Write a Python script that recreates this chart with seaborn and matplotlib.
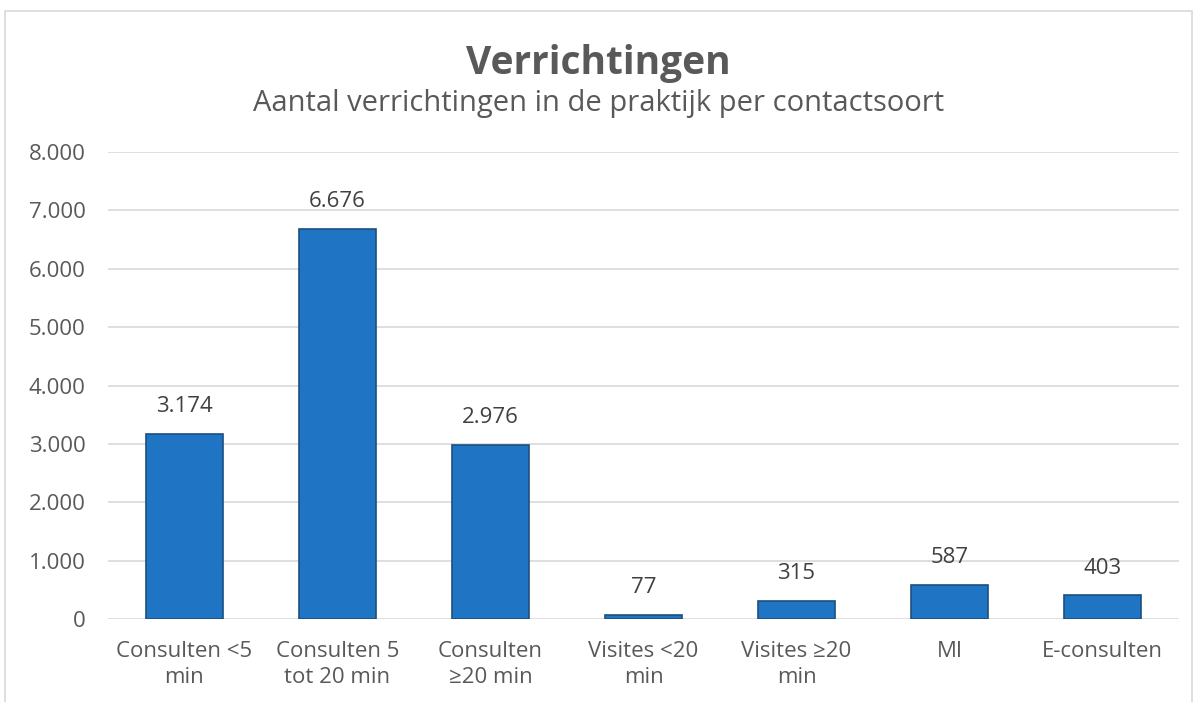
import pandas as pd
import numpy as np
import matplotlib.pyplot as plt
import matplotlib.patches as mpatches
import seaborn as sns

# data
categories = ['Consulten <5\nmin', 'Consulten 5\ntot 20 min', 'Consulten\n≥20 min',
              'Visites <20\nmin', 'Visites ≥20\nmin', 'MI', 'E-consulten']
values = [3174, 6676, 2976, 77, 315, 587, 403]
yticks = [0, 1000, 2000, 3000, 4000, 5000, 6000, 7000, 8000]

def nl_fmt(v):
    return f'{v:,.0f}'.replace(',', '.')

df = pd.DataFrame({'cat': categories, 'val': values})

sns.set_style('white')
plt.rcParams['font.family'] = ['Open Sans', 'DejaVu Sans']
TXT = '#595959'

fig = plt.figure(figsize=(11.97, 7.02), dpi=100)
ax = fig.add_axes([0.0902, 0.1182, 0.8948, 0.6653])

sns.barplot(data=df, x='cat', y='val', color='#1f74c4', width=0.5,
            edgecolor='#1b4f7f', linewidth=1.2, saturation=1, ax=ax, zorder=3)

ax.set_ylim(0, 8000)
ax.set_yticks(yticks)
ax.set_yticklabels([nl_fmt(t) for t in yticks], fontsize=16, color=TXT)
ax.tick_params(axis='x', labelsize=16, labelcolor=TXT, length=0, pad=16)
ax.tick_params(axis='y', length=0, pad=16)
for lbl in ax.get_xticklabels():
    lbl.set_multialignment('center')
    lbl.set_linespacing(1.3)
ax.set_xlabel('')
ax.set_ylabel('')
ax.set_xlim(-0.5, len(categories) - 0.5)
for s in ax.spines.values():
    s.set_visible(False)
ax.grid(axis='y', color='#d9d9d9', linewidth=1.2, zorder=0)

for i, v in enumerate(values):
    ax.text(i, v + 290, nl_fmt(v), ha='center', va='bottom', fontsize=16, color='#404040')

fig.text(0.5, 0.91, 'Verrichtingen', ha='center', va='center', fontsize=28,
         fontweight='bold', color=TXT)
fig.text(0.5, 0.853, 'Aantal verrichtingen in de praktijk per contactsoort', ha='center',
         va='center', fontsize=21, color=TXT)

# chart frame
fig.patches.append(mpatches.Rectangle((0.004, -0.05), 0.992, 1.034, transform=fig.transFigure,
                                      fill=False, edgecolor='#d9d9d9', linewidth=1.2))

fig.savefig('out.png', dpi=100)
